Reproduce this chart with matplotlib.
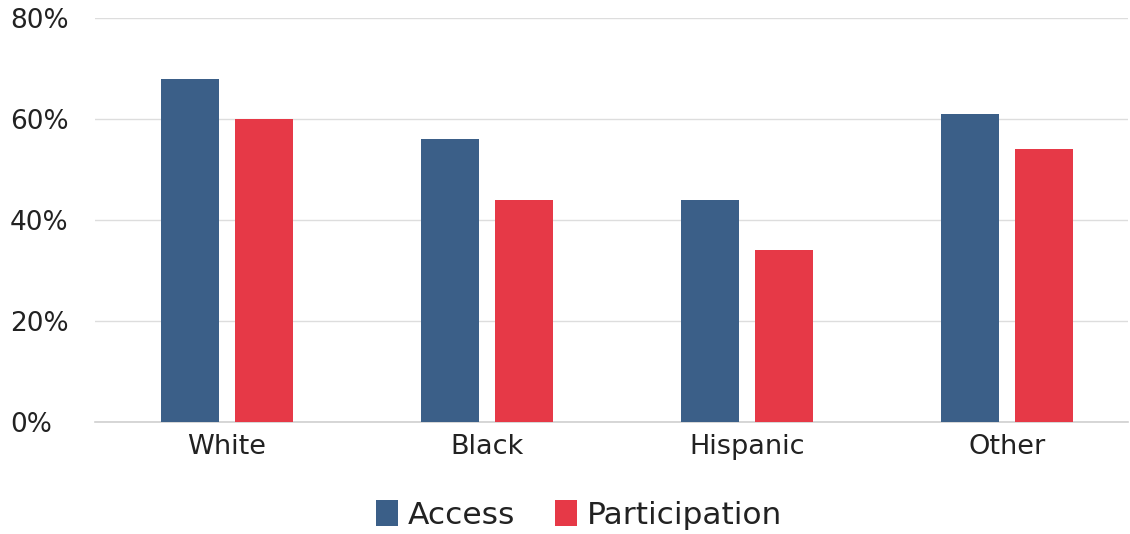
import matplotlib
matplotlib.use("Agg")
import matplotlib.pyplot as plt
import numpy as np
from matplotlib.ticker import FuncFormatter

categories = ["White", "Black", "Hispanic", "Other"]
access = [68, 56, 44, 61]
participation = [60, 44, 34, 54]
yticks = [0, 20, 40, 60, 80]

blue = "#3b5f88"
red = "#e63947"

plt.rcParams['font.family'] = ['DejaVu Sans']

fig = plt.figure(figsize=(11.3, 5.34), dpi=100)
ax = fig.add_axes([95 / 1130, (534 - 422) / 534, (1128 - 95) / 1130, (422 - 18) / 534])

x = np.arange(len(categories))
w = 0.225
ax.bar(x - 0.142, access, width=w, color=blue, label="Access", zorder=3)
ax.bar(x + 0.142, participation, width=w, color=red, label="Participation", zorder=3)

ax.set_xlim(-0.508, 3.465)
ax.set_ylim(0, 80)
ax.set_yticks(yticks)
ax.yaxis.set_major_formatter(FuncFormatter(lambda v, p: f"{int(v)}%"))
ax.set_xticks(x)
ax.set_xticklabels(categories)

ax.grid(axis="y", color="#dddddd", linewidth=1, zorder=0)
for s in ["top", "right", "left"]:
    ax.spines[s].set_visible(False)
ax.spines["bottom"].set_color("#d0d0d0")
ax.spines["bottom"].set_linewidth(1.2)
ax.tick_params(axis="y", length=0, labelsize=19, colors="#222222")
ax.tick_params(axis="x", length=0, labelsize=19.5, colors="#222222", pad=9)
ax.yaxis.set_tick_params(pad=0)
for lbl in ax.get_yticklabels():
    lbl.set_horizontalalignment("left")
    lbl.set_transform(ax.get_yaxis_transform())
    lbl.set_x(-85 / 1033)

fig.legend(loc="center", bbox_to_anchor=(579 / 1130, 1 - 515 / 534), ncol=2, frameon=False,
           fontsize=22.5, handlelength=0.7, handleheight=0.9, handletextpad=0.3, columnspacing=1.3,
           labelcolor="#222222")

fig.savefig("out.png", dpi=100)
